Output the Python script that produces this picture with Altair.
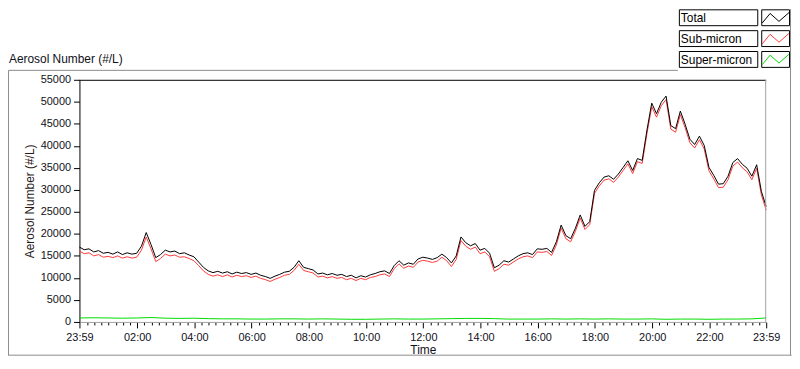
import altair as alt
import pandas as pd

# minutes after 23:59 of the previous day (0 .. 1440)
times10 = list(range(0, 1441, 10))
total = [17000, 16400, 16600, 15900, 16200, 15600, 15800, 15400, 15900, 15300,
         15700, 15400, 15600, 17200, 20300, 17600, 14600, 15300, 16300, 15900,
         16100, 15500, 15700, 15200, 14800, 13600, 12400, 11600, 11200, 11500,
         11100, 11400, 10900, 11300, 11000, 11200, 10800, 11100, 10600, 10300,
         9900, 10400, 10800, 11300, 11500, 12400, 13900, 12400, 12100, 11800,
         10900, 11100, 10700, 11000, 10600, 10800, 10300, 10600, 10000, 10500,
         10200, 10700, 11000, 11400, 11600, 11000, 12800, 13900, 12900, 13400,
         13100, 14300, 14700, 14500, 14200, 14600, 15400, 14600, 13400, 15000,
         19300, 18000, 17300, 17800, 16300, 16700, 15600, 12300, 12900, 13900,
         13600, 14300, 15000, 15500, 15700, 15300, 16600, 16500, 16700, 15800,
         18200, 22000, 19600, 18900, 21300, 24300, 21700, 22800, 29900, 31600,
         32900, 33200, 32400, 33600, 35100, 36600, 34400, 37100, 36700, 43600,
         49700, 47300, 49900, 51300, 44600, 43900, 47900, 44900, 41500, 40300,
         42200, 40100, 35100, 33300, 31300, 31400, 33100, 36200, 37100, 35800,
         34900, 33100, 35700, 29600, 26200]
sub = [16100, 15500, 15700, 15000, 15300, 14700, 14900, 14600, 15000, 14500,
       14800, 14500, 14700, 16300, 19300, 16600, 13700, 14400, 15400, 15000,
       15200, 14700, 14800, 14400, 13900, 12800, 11600, 10800, 10400, 10700,
       10300, 10700, 10200, 10600, 10300, 10500, 10100, 10400, 9900, 9600,
       9200, 9700, 10100, 10600, 10800, 11700, 13100, 11700, 11400, 11100,
       10200, 10400, 10000, 10300, 9900, 10100, 9600, 9900, 9400, 9900,
       9600, 10100, 10300, 10700, 10900, 10300, 12100, 13200, 12200, 12700,
       12400, 13600, 14000, 13800, 13500, 13800, 14700, 13900, 12600, 14200,
       18500, 17200, 16500, 17000, 15500, 15900, 14800, 11500, 12100, 13100,
       12900, 13600, 14300, 14800, 15000, 14600, 15900, 15800, 16000, 15100,
       17500, 21300, 18900, 18200, 20600, 23600, 21000, 22100, 29200, 30900,
       32200, 32500, 31700, 32900, 34400, 35900, 33700, 36400, 36000, 42800,
       48900, 46500, 49100, 50500, 43800, 43100, 47100, 44100, 40700, 39500,
       41400, 39300, 34300, 32500, 30500, 30600, 32300, 35400, 36300, 35000,
       34100, 32300, 34900, 28800, 25400]
times30 = list(range(0, 1441, 30))
sup = [900, 950, 900, 850, 900, 1000, 850, 800, 850, 750, 700, 700, 650,
       650, 700, 700, 650, 700, 650, 600, 600, 650, 700, 650, 650, 700,
       750, 800, 800, 750, 650, 650, 650, 700, 650, 700, 650, 700, 650,
       650, 700, 600, 650, 650, 600, 650, 650, 700, 900]

series = ["Total", "Sub-micron", "Super-micron"]
colors = ["#000000", "#ff3838", "#00dd00"]
y_ticks = list(range(0, 55001, 5000))
major_ticks = [0] + list(range(121, 1322, 120)) + [1440]
minor_ticks = [1 + 15 * k for k in range(1, 96) if k % 8 != 0]

FONT = "Liberation Sans"
GRAY = "#8c8c8c"

df_total = pd.DataFrame({"t": times10, "v": total})
df_sub = pd.DataFrame({"t": times10, "v": sub})
df_sup = pd.DataFrame({"t": times30, "v": sup})

xscale = alt.Scale(domain=[0, 1440], nice=False)
yscale = alt.Scale(domain=[0, 55000], nice=False)
yaxis = alt.Axis(values=y_ticks, format="d", title="Aerosol Number (#/L)",
                 titleFontWeight="normal", titleFontSize=12, titleFont=FONT,
                 titleColor="#2a1818", titlePadding=4, labelFont=FONT, labelFontSize=11,
                 labelColor="#101020", tickSize=6, labelPadding=3, tickColor="#000",
                 domainColor="#000", grid=False, orient="left")

label_expr = ("datum.value == 0 || datum.value == 1440 ? '23:59' : "
              "(datum.value < 601 ? '0' : '') + floor(datum.value / 60) + ':00'")
xaxis_major = alt.Axis(values=major_ticks, labelExpr=label_expr, title="Time",
                       titleFontWeight="normal", titleFontSize=12, titleFont=FONT,
                       titleColor="#101020", titlePadding=2, labelFont=FONT,
                       labelFontSize=11, labelColor="#101020", tickSize=6,
                       labelPadding=4, tickColor="#000", domainColor="#a0a0a0",
                       labelFlush=False, labelOverlap=False, grid=False, orient="bottom")
xaxis_minor = alt.Axis(values=minor_ticks, labels=False, title=None, tickSize=3,
                       tickColor="#000", domain=False, grid=False, orient="bottom")

line_total = alt.Chart(df_total).mark_line(color=colors[0], strokeWidth=1).encode(
    x=alt.X("t:Q", scale=xscale, axis=xaxis_major),
    y=alt.Y("v:Q", scale=yscale, axis=yaxis))
line_sub = alt.Chart(df_sub).mark_line(color=colors[1], strokeWidth=1).encode(
    x=alt.X("t:Q", scale=xscale, axis=xaxis_minor),
    y=alt.Y("v:Q", scale=yscale, axis=yaxis))
line_sup = alt.Chart(df_sup).mark_line(color=colors[2], strokeWidth=1).encode(
    x=alt.X("t:Q", scale=xscale, axis=None),
    y=alt.Y("v:Q", scale=yscale, axis=yaxis))

one = alt.InlineData(values=[{"a": 0}])


def rule(x, y, x2=None, y2=None, color=GRAY):
    enc = dict(x=alt.value(x), y=alt.value(y))
    if x2 is not None:
        enc["x2"] = alt.value(x2)
    if y2 is not None:
        enc["y2"] = alt.value(y2)
    return alt.Chart(one).mark_rule(color=color, strokeWidth=1).encode(**enc)


def box(x, x2, y, y2):
    return alt.Chart(one).mark_rect(fill="white", stroke="#000", strokeWidth=1).encode(
        x=alt.value(x), x2=alt.value(x2), y=alt.value(y), y2=alt.value(y2))


decor = [
    # outer frame
    rule(-71.5, -9.5, x2=603),
    rule(-71.5, -9.5, y2=277.5),
    rule(-72, 277.5, x2=717.5),
    rule(716.5, -71, y2=278),
    # plot border top (black) and right (gray)
    rule(0, 0.5, x2=692, color="#000"),
    rule(691.5, 0, y2=244, color="#a0a0a0"),
]

title = alt.Chart(one).mark_text(align="left", baseline="alphabetic", fontSize=12,
                                 font=FONT, color="#101020").encode(
    x=alt.value(-71), y=alt.value(-17), text=alt.value("Aerosol Number (#/L)"))

zig = "M-1,0.39L-0.41,-0.32L0.25,0.27L1,-0.39"
rows = [(-70.5, -54.5), (-49.5, -33.5), (-28.5, -12.5)]
legend = []
for name, col, (ya, yb) in zip(series, colors, rows):
    legend.append(box(604.5, 683.5, ya, yb))
    legend.append(box(687.5, 715.5, ya, yb))
    legend.append(alt.Chart(one).mark_text(align="left", baseline="middle", fontSize=12,
                                           font=FONT, color="#000").encode(
        x=alt.value(606), y=alt.value((ya + yb) / 2 + 0.5), text=alt.value(name)))
    legend.append(alt.Chart(one).mark_point(shape=zig, size=729, filled=False, stroke=col,
                                            strokeWidth=1, opacity=1).encode(
        x=alt.value(701.5), y=alt.value((ya + yb) / 2)))

chart = alt.layer(line_sup, line_sub, line_total, *decor, title, *legend).resolve_axis(
    x="independent").properties(
    width=692, height=244,
    autosize=alt.AutoSizeParams(type="none"),
    padding={"left": 72, "top": 71, "right": 26, "bottom": 34},
    background="white",
).configure_view(stroke=None)

chart.save("out.html", embed_options={"renderer": "svg", "actions": False})
